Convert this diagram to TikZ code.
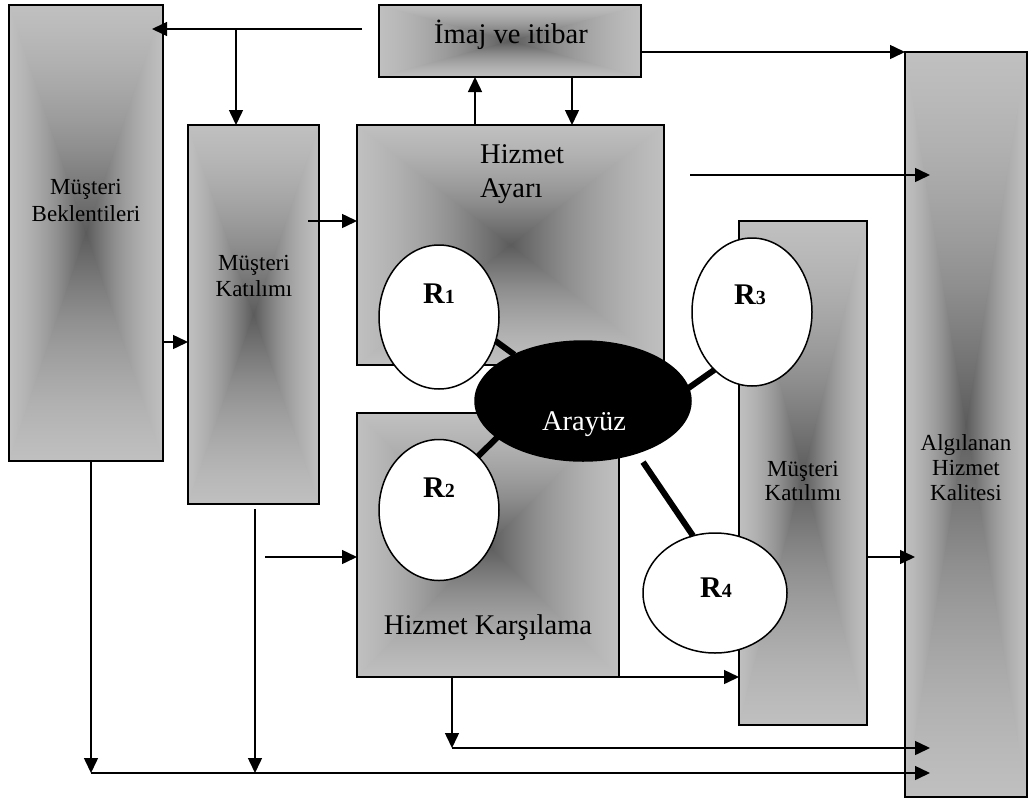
\documentclass[tikz,border=0pt]{standalone}
\usepackage{fontspec}
\setmainfont{Liberation Serif}
\usetikzlibrary{arrows.meta,shapes.geometric,calc}
\definecolor{gl}{RGB}{192,192,192}
\definecolor{g7}{RGB}{185,185,185}
\definecolor{g6}{RGB}{177,177,177}
\definecolor{g5}{RGB}{167,167,167}
\definecolor{g4}{RGB}{156,156,156}
\definecolor{g3}{RGB}{143,143,143}
\definecolor{g2}{RGB}{127,127,127}
\definecolor{g1}{RGB}{110,110,110}
\definecolor{gd}{RGB}{92,92,92}
\pgfdeclarehorizontalshading{hz}{100bp}{color(0bp)=(gl); color(25bp)=(gl);
  color(28.125bp)=(g7); color(31.25bp)=(g6); color(34.375bp)=(g5); color(37.5bp)=(g4);
  color(40.625bp)=(g3); color(43.75bp)=(g2); color(46.875bp)=(g1); color(50bp)=(gd);
  color(53.125bp)=(g1); color(56.25bp)=(g2); color(59.375bp)=(g3); color(62.5bp)=(g4);
  color(65.625bp)=(g5); color(68.75bp)=(g6); color(71.875bp)=(g7); color(75bp)=(gl); color(100bp)=(gl)}
\pgfdeclareverticalshading{vtop}{100bp}{color(0bp)=(gd); color(25bp)=(gd);
  color(31.25bp)=(g1); color(37.5bp)=(g2); color(43.75bp)=(g3); color(50bp)=(g4);
  color(56.25bp)=(g5); color(62.5bp)=(g6); color(68.75bp)=(g7); color(75bp)=(gl); color(100bp)=(gl)}
\pgfdeclareverticalshading{vbot}{100bp}{color(0bp)=(gl); color(25bp)=(gl);
  color(31.25bp)=(g7); color(37.5bp)=(g6); color(43.75bp)=(g5); color(50bp)=(g4);
  color(56.25bp)=(g3); color(62.5bp)=(g2); color(68.75bp)=(g1); color(75bp)=(gd); color(100bp)=(gd)}
\tikzset{
  bx/.style={draw=black, line width=1.6pt, inner sep=0pt, outer sep=0pt, rectangle},
  ell/.style={ellipse, draw=black, fill=white, line width=1.5pt, inner sep=0pt, outer sep=0pt},
  arr/.style={line width=1.5pt, -{Triangle[length=15pt,width=14pt]}},
  tl/.style={line width=6pt},
  tL/.style={font=\fontsize{28.5}{33}\selectfont, inner sep=0pt, anchor=base},
  tS/.style={font=\fontsize{23}{28}\selectfont, inner sep=0pt, anchor=base},
  tR/.style={font=\fontsize{30}{30}\selectfont\bfseries, inner sep=0pt, anchor=base},
}
% shaded box: name, x1, y1, x2, y2
\newcommand\gbox[5]{%
  \coordinate (#1-c) at ({(#2+#4)/2},{(#3+#5)/2});
  \shade[shading=hz] (#2,#3) rectangle (#4,#5);
  \shade[shading=vtop] (#2,#3) -- (#4,#3) -- (#1-c) -- cycle;
  \shade[shading=vbot] (#2,#5) -- (#4,#5) -- (#1-c) -- cycle;
  \node[bx, minimum width={#4-#2}, minimum height={#5-#3}] (#1) at (#1-c) {};
}
\newcommand\rlab[1]{R{\fontsize{20}{20}\selectfont #1}}
\begin{document}
\begin{tikzpicture}[x=1pt,y=-1pt]
\useasboundingbox (0,0) rectangle (1034,801);
\fill[white] (0,0) rectangle (1034,801);
\gbox{B}{9}{5}{163}{461}
\gbox{K1}{188}{125}{319}{504}
\gbox{Im}{379}{5}{641}{77}
\gbox{HA}{357}{125}{664}{365}
\gbox{HK}{357}{413}{619}{677}
\gbox{K2}{739}{221}{867}{725}
\gbox{A}{905}{52}{1027}{797}

% texts in boxes
\node[tS] (tB1) at (86,194) {Müşteri};
\node[tS] (tB2) at (86,221) {Beklentileri};
\node[tS] (tK11) at (254,270) {Müşteri};
\node[tS] (tK12) at (254,296) {Katılımı};
\node[tL] (tIm) at (511,43) {İmaj ve itibar};
\node[tL, anchor=base west] (tHA1) at (480,163) {Hizmet};
\node[tL, anchor=base west] (tHA2) at (480,197) {Ayarı};
\node[tL] (tHK) at (488,634) {Hizmet Karşılama};
\node[tS] (tK21) at (803,476) {Müşteri};
\node[tS] (tK22) at (803,500) {Katılımı};
\node[tS] (tA1) at (966,450) {Algılanan};
\node[tS] (tA2) at (966,475) {Hizmet};
\node[tS] (tA3) at (966,500) {Kalitesi};

% ellipses
\node[ell, minimum width=120, minimum height=144] (R1) at (439,317) {};
\node[ell, minimum width=120, minimum height=141] (R2) at (439,510) {};
\node[ell, minimum width=120, minimum height=148] (R3) at (752,312) {};
\node[ell, minimum width=144, minimum height=120] (R4) at (715,593) {};
\node[ell, fill=black, minimum width=216, minimum height=120] (Ar) at (583,401) {};
\node[tR] (tR1) at (439,303) {\rlab{1}};
\node[tR] (tR2) at (439,497) {\rlab{2}};
\node[tR] (tR3) at (750,304) {\rlab{3}};
\node[tR] (tR4) at (716,597) {\rlab{4}};
\node[tL, text=white] (tAr) at (584,430) {Arayüz};

% thick links
\draw[tl] (R1.337) -- (Ar.146);
\draw[tl] (R2.54) -- (Ar.203);
\draw[tl] (R3.237) -- (Ar.7);
\draw[tl, shorten <=11pt] (Ar.316) -- (R4.111);

% arrows
\coordinate (imL) at (362,29);
\coordinate (j1) at (236,29);
\draw[arr] (imL) -- ([xshift=-11pt]B.east |- imL);
\draw[arr] (j1) -- (j1 |- K1.north);
\draw[arr] ([xshift=118pt]HA.north west) -- ([xshift=118pt]HA.north west |- Im.south);
\draw[arr] ([xshift=193pt]Im.south west) -- ([xshift=193pt]Im.south west |- HA.north);
\draw[arr] (Im.east |- A.north) -- (A.north west);
\coordinate (haR) at (690,175);
\draw[arr] (haR) -- ([xshift=25pt]A.west |- haR);
\coordinate (k1R) at (308,221);
\draw[arr] (k1R) -- (k1R -| HA.west);
\coordinate (r342) at (0,342);
\draw[arr] (B.east |- r342) -- (K1.west |- r342);
\coordinate (bl) at (91,773);
\draw[arr] (bl |- B.south) -- (bl);
\coordinate (kd) at (255,773);
\draw[arr] ([yshift=-5pt]K1.south -| kd) -- (kd);
\draw[arr] (bl) -- ([xshift=25pt]A.west |- bl);
\coordinate (hkL) at (265,557);
\draw[arr] (hkL) -- (hkL -| HK.west);
\coordinate (hd) at (452,748);
\draw[arr] (hd |- HK.south) -- (hd);
\draw[arr] (hd) -- ([xshift=25pt]A.west |- hd);
\draw[arr] (HK.south east) -- (K2.west |- HK.south east);
\draw[arr] (K2.east |- hkL) -- ([xshift=10pt]A.west |- hkL);
\end{tikzpicture}
\end{document}
